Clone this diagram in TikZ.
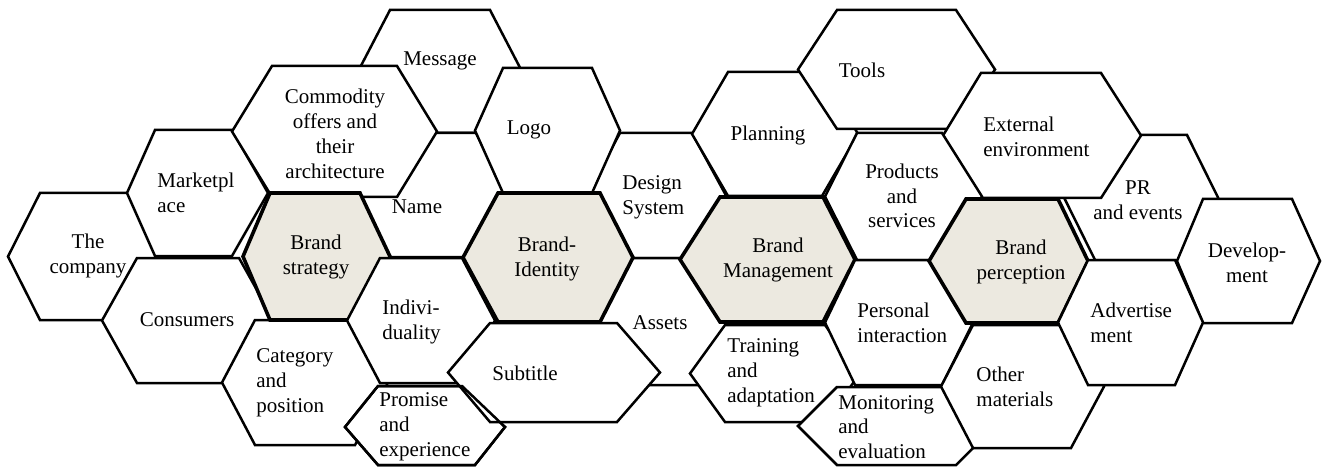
\documentclass[tikz,border=0pt]{standalone}
\usepackage{fontspec}
\setmainfont{Liberation Serif}
\definecolor{brandfill}{RGB}{236,233,224}
\newcommand{\HexCell}[7][]{%
  \filldraw[hexline,#1] (#2,{(#6+#7)/2}) -- (#3,#6) -- (#4,#6) -- (#5,{(#6+#7)/2}) -- (#4,#7) -- (#3,#7) -- cycle;}
\tikzset{
  hexline/.style={draw=black, fill=white, line width=1.25pt, line join=miter},
  brandhex/.style={fill=brandfill, line width=1.8pt},
  lbl/.style={font=\fontsize{10.5}{12.4}\selectfont, inner sep=0pt, align=center, anchor=center},
  lbll/.style={lbl, align=left, anchor=west},
}
\begin{document}
\begin{tikzpicture}[x=0.5pt, y=-0.5pt]
\useasboundingbox (0,0) rectangle (1326,470);
% ---- hexagons, back to front ----
\HexCell{358}{390}{490}{522}{10}{133}   % Message
\HexCell{8}{40}{136}{168}{193}{320}     % The company
\HexCell{127}{155}{232}{268}{130}{256}  % Marketplace
\HexCell{102}{137}{239}{274}{258}{383}  % Consumers
\HexCell{345}{378}{476}{508}{133}{257}  % Name
\HexCell{232}{272}{397}{437}{66}{197}   % Commodity
\HexCell{586}{620}{692}{726}{133}{258}  % Design System
\HexCell{475}{503}{592}{620}{68}{193}   % Logo
\HexCell{692}{728}{822}{858}{72}{196}   % Planning
\HexCell{798}{837}{956}{995}{10}{129}   % Tools
\HexCell{1064}{1095}{1187}{1218}{135}{260} % PR
\HexCell{943}{981}{1101}{1141}{73}{198} % External
\HexCell{825}{857}{942}{982}{133}{260}  % Products
\HexCell{1177}{1203}{1292}{1320}{199}{323} % Development
\HexCell{222}{255}{355}{388}{320}{445}  % Category
\HexCell[brandhex]{243}{270}{360}{390}{193}{320} % Brand strategy
\HexCell{347}{380}{462}{495}{258}{383}  % Individuality
\HexCell{585}{620}{700}{735}{258}{385}  % Assets
\HexCell[brandhex]{463}{498}{600}{633}{193}{322} % Brand-Identity
\filldraw[hexline] (345,427) -- (378,386) -- (462,386) -- (505,427) -- (475,465) -- (378,465) -- cycle; % Promise
\HexCell{448}{490}{617}{660}{323}{422}  % Subtitle
\draw[hexline, fill=none] (345,427) -- (378,386) -- (462,386) -- (505,427) -- (475,465) -- (378,465) -- cycle; % Promise outline
\HexCell{690}{725}{825}{860}{325}{422}  % Training
\HexCell[brandhex]{680}{720}{823}{855}{197}{322} % Brand Management
\HexCell{825}{855}{942}{973}{260}{385}  % Personal
\HexCell{798}{837}{956}{995}{387}{465}  % Monitoring
\HexCell{941}{973}{1071}{1104}{325}{448} % Other
\HexCell[brandhex]{929}{966}{1058}{1088}{199}{323} % Brand perception
\HexCell{1058}{1088}{1175}{1203}{260}{385} % Advertisement
% ---- labels ----
\node[lbl]  (company)   at (88,256)   {The\\company};
\node[lbll] (market)    at (157,193)  {Marketpl\\ace};
\node[lbl]  (commodity) at (335,134)  {Commodity\\offers and\\their\\architecture};
\node[lbl]  (message)   at (440,61)   {Message};
\node[lbl]  (logo)      at (529,130)  {Logo};
\node[lbl]  (name)      at (417,207)  {Name};
\node[lbl]  (strategy)  at (316,257)  {Brand\\strategy};
\node[lbl]  (consumers) at (187,320)  {Consumers};
\node[lbll] (category)  at (256,383)  {Category\\and\\position};
\node[lbll] (indiv)     at (382,322)  {Indivi-\\duality};
\node[lbll] (promise)   at (379,427)  {Promise\\and\\experience};
\node[lbl]  (identity)  at (547,259)  {Brand-\\Identity};
\node[lbl]  (subtitle)  at (525,373)  {Subtitle};
\node[lbll] (design)    at (622,197)  {Design\\System};
\node[lbl]  (assets)    at (660,323)  {Assets};
\node[lbl]  (planning)  at (768,135)  {Planning};
\node[lbl]  (tools)     at (862,70)   {Tools};
\node[lbl]  (management) at (778,260) {Brand\\Management};
\node[lbll] (training)  at (727,373)  {Training\\and\\adaptation};
\node[lbl]  (products)  at (902,196)  {Products\\and\\services};
\node[lbll] (personal)  at (857,323)  {Personal\\interaction};
\node[lbll] (monitor)   at (838,427)  {Monitoring\\and\\evaluation};
\node[lbll] (external)  at (983,137)  {External\\environment};
\node[lbl]  (perception) at (1021,262) {Brand\\perception};
\node[lbl]  (pr)        at (1138,200) {PR\\and events};
\node[lbl]  (develop)   at (1247,263) {Develop-\\ment};
\node[lbll] (advert)    at (1090,323) {Advertise\\ment};
\node[lbll] (other)     at (976,387)  {Other\\materials};
\end{tikzpicture}
\end{document}
